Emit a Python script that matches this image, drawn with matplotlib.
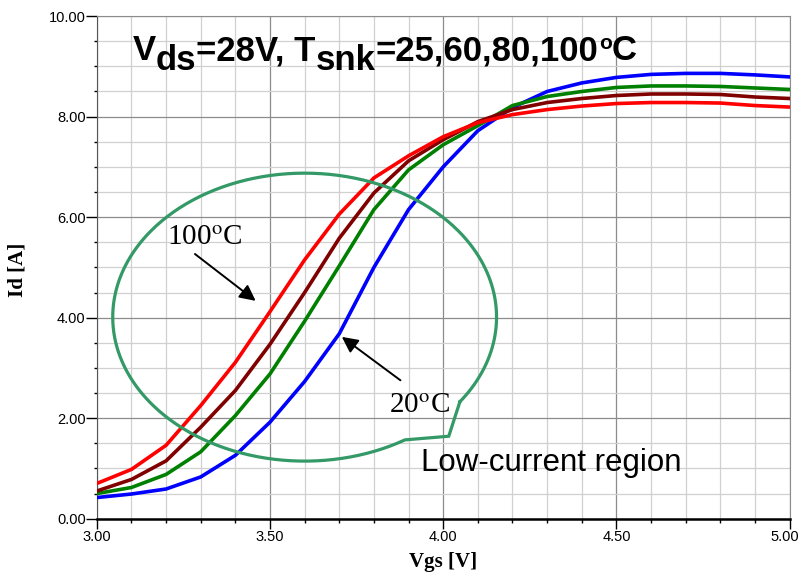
import numpy as np
import matplotlib
matplotlib.use("Agg")
import matplotlib.pyplot as plt
from matplotlib.ticker import MultipleLocator, FuncFormatter, FormatStrFormatter

# Id-Vgs transfer curves, 0.1 V steps
vgs = [3.0, 3.1, 3.2, 3.3, 3.4, 3.5, 3.6, 3.7, 3.8, 3.9, 4.0,
       4.1, 4.2, 4.3, 4.4, 4.5, 4.6, 4.7, 4.8, 4.9, 5.0]
id_25c = [0.42, 0.49, 0.59, 0.83, 1.26, 1.92, 2.73, 3.68, 5.00, 6.15, 7.00,
          7.72, 8.18, 8.50, 8.67, 8.78, 8.84, 8.86, 8.86, 8.83, 8.79]
id_60c = [0.50, 0.62, 0.88, 1.33, 2.05, 2.88, 3.93, 5.03, 6.15, 6.94, 7.44,
          7.82, 8.22, 8.40, 8.50, 8.58, 8.61, 8.61, 8.60, 8.57, 8.54]
id_80c = [0.55, 0.78, 1.15, 1.82, 2.55, 3.47, 4.50, 5.58, 6.48, 7.12, 7.54,
          7.90, 8.14, 8.28, 8.36, 8.42, 8.45, 8.45, 8.44, 8.39, 8.36]
id_100c = [0.70, 0.98, 1.46, 2.25, 3.11, 4.12, 5.15, 6.06, 6.78, 7.22, 7.60,
           7.88, 8.04, 8.14, 8.21, 8.26, 8.28, 8.28, 8.27, 8.22, 8.19]

series = [(id_25c, "#0000ff"), (id_60c, "#008000"),
          (id_80c, "#800000"), (id_100c, "#ff0000")]

plt.rcParams["mathtext.fontset"] = "stix"

fig = plt.figure(figsize=(8, 5.75), dpi=100)
ax = fig.add_axes([0.121, 0.098, 0.866, 0.874])

for vals, col in series:
    ax.plot(vgs, vals, color=col, lw=2.6, zorder=3)

x_max = 5.0
ax.set_xlim(3, x_max)
ax.set_ylim(0, 10)
ax.xaxis.set_major_locator(MultipleLocator(0.5))
ax.xaxis.set_minor_locator(MultipleLocator(0.1))
ax.yaxis.set_major_locator(MultipleLocator(2))
ax.yaxis.set_minor_locator(MultipleLocator(0.5))
# last x label is drawn separately so it stays inside the figure
ax.xaxis.set_major_formatter(FuncFormatter(lambda v, p: "" if v >= x_max else f"{v:.2f}"))
ax.yaxis.set_major_formatter(FormatStrFormatter("%.2f"))
ax.grid(which="major", color="#8c8c8c", lw=0.9)
ax.grid(which="minor", color="#d0d0d0", lw=0.9)
ax.set_axisbelow(True)

ax.tick_params(axis="x", which="major", length=7, width=1, pad=1, labelsize=10.5,
               labelfontfamily="Liberation Sans")
ax.tick_params(axis="x", which="minor", length=3, width=1)
ax.tick_params(axis="y", which="major", length=8, width=1, pad=0, labelsize=10.5,
               labelfontfamily="Liberation Sans")
ax.tick_params(axis="y", which="minor", length=2, width=1)

fig.text(0.999, 1 - (518.7 + 8 * 100 / 72) / 575, f"{x_max:.2f}", ha="right", va="top",
         family="Liberation Sans", size=10.5)

ax.spines["bottom"].set_linewidth(1.8)
ax.spines["bottom"].set_color("black")
ax.spines["left"].set_color("#555555")
for s in ("top", "right"):
    ax.spines[s].set_color("#8c8c8c")

ax.set_xlabel("Vgs [V]", family="Liberation Serif", weight="bold", size=15, va="center")
ax.xaxis.set_label_coords(0.5, -0.086)
ax.set_ylabel("Id [A]", family="Liberation Serif", weight="bold", size=15, va="center")
ax.yaxis.set_label_coords(-0.115, 0.495)

# callout ellipse with a small tail at the lower right
t = np.radians(np.linspace(-36, 301.5, 400))
ex = list(3.60 + 0.554 * np.cos(t)) + [4.016, 3.60 + 0.554 * np.cos(t[0])]
ey = list(4.01 + 2.865 * np.sin(t)) + [1.64, 4.01 + 2.865 * np.sin(t[0])]
ax.plot(ex, ey, color="#339966", lw=2.3, zorder=4, solid_joinstyle="miter")

# temperature labels with arrows
arrow = dict(arrowstyle="-|>", mutation_scale=24, lw=1.4, color="black")
ax.annotate("", xy=(3.465, 4.30), xytext=(3.277, 5.30), arrowprops=arrow, zorder=5)
ax.annotate("", xy=(3.701, 3.65), xytext=(3.883, 2.72), arrowprops=arrow, zorder=5)
ax.text(3.202, 5.44, r"100$^{\mathrm{o}}$C", family="Liberation Serif", size=21,
        va="baseline", zorder=6)
ax.text(3.843, 2.10, r"20$^{\mathrm{o}}$C", family="Liberation Serif", size=21,
        va="baseline", zorder=6)
ax.text(3.935, 0.95, "Low-current region", family="Liberation Sans", size=22.5,
        va="baseline", zorder=6)

# title with full-size lowered subscripts, built piece by piece
tkw = dict(family="Liberation Sans", weight="bold", zorder=6)
first = ax.text(3.104, 9.12, "V", size=25, va="baseline", **tkw)
pieces = [("ds", -7.2, 25), ("=28V, T", 0, 25), ("snk", -7.2, 25),
          ("=25,60,80,100", 0, 25), ("o", None, 15), ("C", 0, 25)]
prev = first
for s, dy, sz in pieces:
    if dy is None:
        prev = ax.annotate(s, xy=(1, 1), xycoords=(prev, first), xytext=(0.5, 0),
                           textcoords="offset points", va="top", size=sz, **tkw)
    else:
        prev = ax.annotate(s, xy=(1, 0), xycoords=(prev, first), xytext=(0, dy),
                           textcoords="offset points", va="bottom", size=sz, **tkw)

fig.savefig("out.png", dpi=100)
